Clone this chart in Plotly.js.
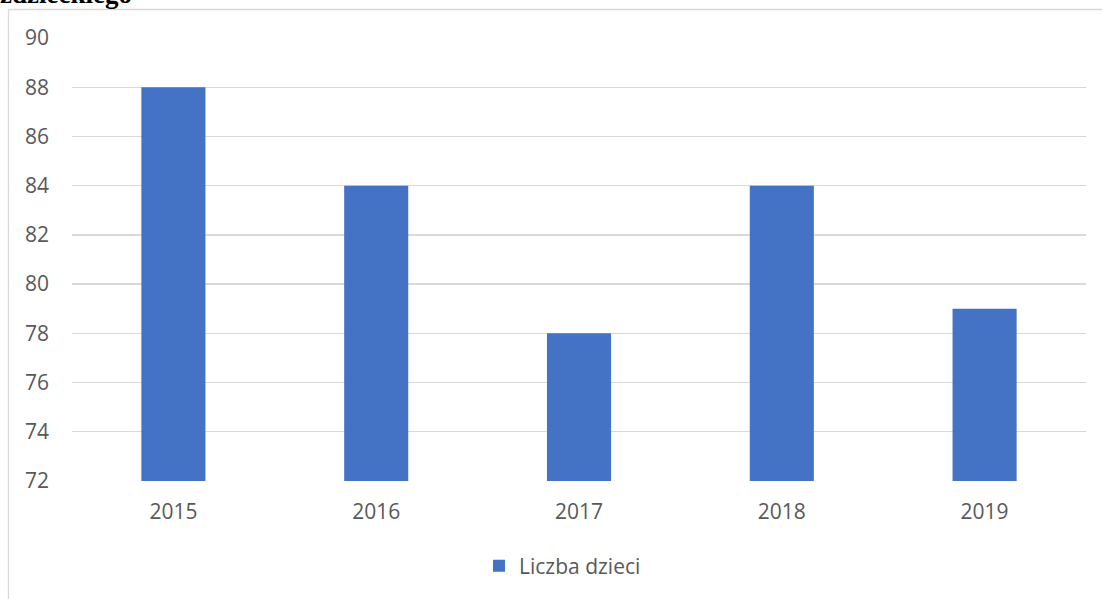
<!DOCTYPE html>
<html>
<head>
<meta charset="utf-8">
<script src="https://cdn.plot.ly/plotly-3.0.1.min.js"></script>
<style>html,body{margin:0;padding:0;background:#fff;}#chart{width:1102px;height:599px;}</style>
</head>
<body>
<div id="chart"></div>
<script>
var years = ["2015", "2016", "2017", "2018", "2019"];
var liczbaDzieci = [88, 84, 78, 84, 79];
var seriesName = "Liczba dzieci";
var titleText = "zdzieckiego";
var yTicks = [72, 74, 76, 78, 80, 82, 84, 86, 88, 90];

var W = 1102, H = 599;
var L = 72, R = 16, T = 38, B = 118;
var pw = W - L - R, ph = H - T - B;
function px(x){ return (x - L) / pw; }
function py(y){ return (H - B - y) / ph; }

var trace = {
  type: "bar",
  x: years,
  y: liczbaDzieci,
  name: seriesName,
  marker: {color: "#4472C4"},
  showlegend: true,
  hoverinfo: "x+y"
};

var layout = {
  width: W, height: H,
  margin: {l: L, r: R, t: T, b: B, pad: 0},
  paper_bgcolor: "#ffffff",
  plot_bgcolor: "#ffffff",
  font: {family: "Open Sans, Liberation Sans, sans-serif", size: 21, color: "#595959"},
  bargap: 0.684,
  showlegend: true,
  legend: {
    orientation: "h",
    x: px(479), xanchor: "left",
    y: py(566), yanchor: "middle",
    font: {size: 21, color: "#595959"},
    itemwidth: 30,
    bgcolor: "rgba(0,0,0,0)"
  },
  xaxis: {
    type: "category",
    showgrid: false,
    zeroline: false,
    showline: false,
    ticks: "",
    ticklabelstandoff: 16,
    tickfont: {size: 21, color: "#595959"}
  },
  yaxis: {
    range: [72, 90],
    tickvals: yTicks,
    ticktext: yTicks.map(String),
    showgrid: true,
    gridcolor: "#D9D9D9",
    gridwidth: 1.3,
    zeroline: false,
    showline: false,
    ticks: "",
    ticklabelstandoff: 22,
    tickfont: {size: 21, color: "#595959"}
  },
  shapes: [
    {type: "line", xref: "paper", yref: "paper", x0: px(8.5), x1: px(8.5), y0: py(9.5), y1: py(620), line: {color: "#D9D9D9", width: 1.3}},
    {type: "line", xref: "paper", yref: "paper", x0: px(8.5), x1: px(1110), y0: py(9.5), y1: py(9.5), line: {color: "#D9D9D9", width: 1.3}}
  ],
  annotations: [
    {text: "<b>" + titleText + "</b>", xref: "paper", yref: "paper", x: px(-2), y: py(11), xanchor: "left", yanchor: "bottom", showarrow: false,
     font: {family: "Liberation Serif, Times New Roman, serif", size: 27, color: "#000000"}}
  ]
};

Plotly.newPlot("chart", [trace], layout, {displayModeBar: false, staticPlot: true});
</script>
</body>
</html>
